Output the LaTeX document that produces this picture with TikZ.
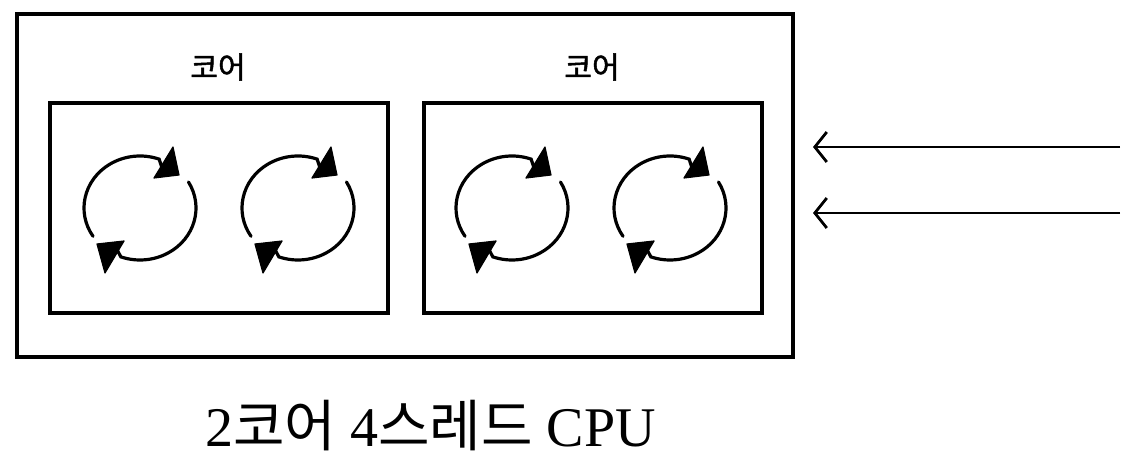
\documentclass[tikz,border=0pt]{standalone}
\usepackage{fontspec}
\newfontfamily\krsans{Noto Sans CJK KR}
\newfontfamily\krlabel{Noto Sans CJK KR}[FakeBold=1.6]
\newfontfamily\latserif{Liberation Serif}
\usetikzlibrary{arrows.meta,calc}
\tikzset{
  box/.style={draw=black, line width=3.1pt, inner sep=0pt},
  corelabel/.style={font=\krlabel\fontsize{30}{34}\selectfont, inner sep=0pt},
  thr/.style={draw=black, line width=3.2pt, line cap=round},
  thrhead/.style={fill=black, draw=black, line width=1.2pt, line join=round},
  inarrow/.style={draw=black, line width=2.6pt, -{Straight Barb[length=12pt,width=30pt,line width=2.8pt]}},
}
\begin{document}
\begin{tikzpicture}[x=1pt,y=1pt]
\useasboundingbox[fill=white] (0,0) rectangle (1133,460);
% outer CPU box
\node[box, minimum width=776pt, minimum height=343pt] (cpu) at (405,274.5) {};
% cores
\node[box, minimum width=338pt, minimum height=210pt] (core1) at (219,252) {};
\node[box, minimum width=338pt, minimum height=210pt] (core2) at (593,252) {};
\node[corelabel] (lab1) at (218,393) {코어};
\node[corelabel] (lab2) at (592,393) {코어};
% thread cycles
\foreach \cx [count=\i] in {140,298,512,670}{
  \coordinate (t\i) at (\cx,252);
  \draw[thr] ($(t\i)+(213:56 and 52)$) arc[start angle=213, end angle=70, x radius=56, y radius=52]
     -- ($(t\i)+(24,34)$);
  \fill[thrhead] ($(t\i)+(33,61)$) -- ($(t\i)+(39,33)$) -- ($(t\i)+(14,30)$) -- cycle;
  \draw[thr] ($(t\i)+(30:56 and 52)$) arc[start angle=30, end angle=-110, x radius=56, y radius=52]
     -- ($(t\i)+(-26,-36)$);
  \fill[thrhead] ($(t\i)+(-35,-65)$) -- ($(t\i)+(-43,-36)$) -- ($(t\i)+(-16,-33)$) -- cycle;
}
% incoming arrows
\coordinate (s1) at (1120,313);
\coordinate (e1) at (813,313);
\coordinate (s2) at (1120,247);
\coordinate (e2) at (813,247);
\draw[inarrow] (s1) -- (e1);
\draw[inarrow] (s2) -- (e2);
% title
\node[inner sep=0pt] (title) at (430.5,34) {\fontsize{56}{64}\selectfont\latserif 2{\krsans 코어} 4{\krsans 스레드} CPU};
\end{tikzpicture}
\end{document}
